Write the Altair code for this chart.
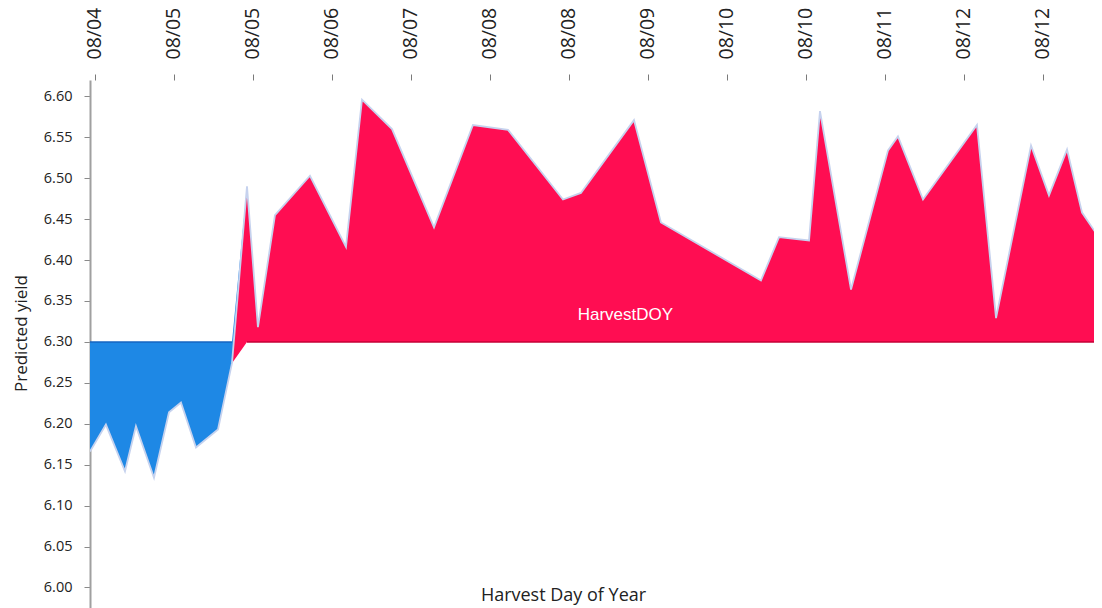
import json
import altair as alt
import pandas as pd

# ---- data ----
days = [4.506, 4.647, 4.816, 4.913, 5.073, 5.206, 5.312, 5.445, 5.640, 5.764,
        5.897, 5.994, 6.145, 6.455, 6.774, 6.916, 7.182, 7.554, 7.899, 8.210,
        8.697, 8.856, 9.326, 9.565, 10.451, 10.611, 10.877, 10.974, 11.249, 11.577,
        11.665, 11.887, 12.365, 12.534, 12.844, 13.003, 13.163, 13.296, 13.473]
yields = [6.166, 6.199, 6.142, 6.197, 6.134, 6.214, 6.226, 6.171, 6.193, 6.274,
          6.490, 6.318, 6.455, 6.503, 6.416, 6.596, 6.560, 6.440, 6.565, 6.559,
          6.474, 6.482, 6.571, 6.446, 6.375, 6.428, 6.424, 6.582, 6.364, 6.534,
          6.551, 6.474, 6.565, 6.329, 6.540, 6.479, 6.535, 6.458, 6.422]
baseline = 6.30

tick_values = [4.55, 5.25, 5.95, 6.65, 7.35, 8.05, 8.75, 9.45, 10.15, 10.85, 11.55, 12.25, 12.95]
tick_labels = ["08/04", "08/05", "08/05", "08/06", "08/07", "08/08", "08/08",
               "08/09", "08/10", "08/10", "08/11", "08/12", "08/12"]
y_ticks = [6.00, 6.05, 6.10, 6.15, 6.20, 6.25, 6.30, 6.35, 6.40, 6.45, 6.50, 6.55, 6.60]

x_domain = [4.506, 13.402]
y_domain = [5.97, 6.62]

series_label = "HarvestDOY"
label_day = 9.25
label_yield = 6.333

# ---- tables ----
df = pd.DataFrame({"day": days, "yield": yields})
df["blue_top"] = df["yield"].clip(lower=baseline)
df["red_base"] = df["yield"].clip(upper=baseline)

below_idx = [i for i, v in enumerate(yields) if v < baseline]
above_idx = [i for i, v in enumerate(yields) if v >= baseline]
rules = pd.DataFrame({
    "x": [days[below_idx[0]], days[above_idx[0]]],
    "x2": [days[below_idx[-1]], days[above_idx[-1]]],
    "y": [baseline, baseline],
    "c": ["#1565c0", "#c40036"],
})
lab = pd.DataFrame({"day": [label_day], "yield": [label_yield], "t": [series_label]})

FONT = "Open Sans"
label_expr = f"{json.dumps(tick_labels)}[round((datum.value - 4.55) / 0.7)]"

xscale = alt.Scale(domain=x_domain, nice=False, zero=False)
yscale = alt.Scale(domain=y_domain, nice=False, zero=False)

xaxis = alt.Axis(
    orient="top", values=tick_values, labelExpr=label_expr, labelAngle=-90,
    labelFont=FONT, labelFontSize=19.5, labelColor="#222222", labelPadding=15,
    tickColor="#7a7a7a", tickSize=6, domain=False, grid=False,
    title="Harvest Day of Year", titleFont=FONT, titleFontSize=18,
    titleFontWeight="normal", titleColor="#222222", titleX=473, titleY=515,
    titleBaseline="middle", titleAlign="center", labelFlush=False,
)
yaxis = alt.Axis(
    values=y_ticks, format=".2f", labelFont=FONT, labelFontSize=14.5,
    labelColor="#222222", labelPadding=12, tickColor="#8a8a8a", tickSize=6,
    domainColor="#a0a0a0", domainWidth=2, grid=False,
    title="Predicted yield", titleFont=FONT, titleFontSize=17,
    titleFontWeight="normal", titleColor="#222222", titleX=-69, titleY=253,
    titleAngle=270, titleBaseline="middle", titleAlign="center",
)

base = alt.Chart(df)

blue = base.mark_area(color="#1e88e5", opacity=1, clip=True).encode(
    x=alt.X("day:Q", scale=xscale, axis=xaxis),
    y=alt.Y("yield:Q", scale=yscale, axis=yaxis),
    y2="blue_top:Q",
)
red = base.mark_area(color="#ff0d52", opacity=1, clip=True).encode(
    x="day:Q", y="yield:Q", y2="red_base:Q",
)
glow = base.mark_line(color="#c6d2ee", strokeWidth=1.8, clip=True).encode(
    x="day:Q", y="yield:Q",
)
base_rules = alt.Chart(rules).mark_rule(strokeWidth=1.5, clip=True).encode(
    x="x:Q", x2="x2:Q", y="y:Q", color=alt.Color("c:N", scale=None),
)
text = alt.Chart(lab).mark_text(
    font="Liberation Sans", fontSize=17, color="white", align="center", baseline="middle"
).encode(x="day:Q", y="yield:Q", text="t:N")

chart = alt.layer(blue, red, glow, base_rules, text).properties(
    width=1004, height=532,
    padding={"left": 82, "top": 72, "right": 0, "bottom": 0},
    autosize=alt.AutoSizeParams(type="none"),
).configure_view(strokeWidth=0)

chart.save("out.html", embed_options={"renderer": "svg", "actions": False})
